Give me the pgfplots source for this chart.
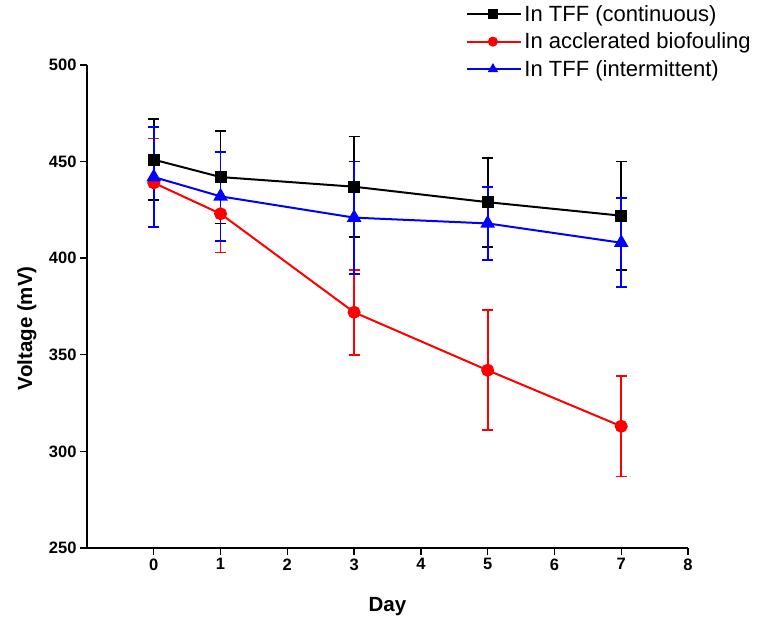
\documentclass[border=0pt]{standalone}
\usepackage{fontspec}
\setmainfont{Liberation Sans}
\usepackage{pgfplots}
\pgfplotsset{compat=1.18}

\begin{document}
\begin{tikzpicture}
\useasboundingbox (-87pt,-76pt) rectangle (671pt,548pt);
\begin{axis}[
    scale only axis,
    width=601pt, height=483pt,
    xmin=-1, xmax=8,
    ymin=250, ymax=500,
    xtick={0,1,...,8},
    ytick={250,300,...,500},
    axis x line=bottom, axis y line=left,
    axis line style={-, line width=1.4pt},
    tick align=outside,
    major tick length=7pt,
    tick style={line width=1.4pt, black},
    minor tick num=0,
    tick label style={font=\fontsize{16.5}{16.5}\selectfont\bfseries},
    /pgf/number format/assume math mode=true,
    xlabel={Day}, ylabel={Voltage (mV)},
    label style={font=\fontsize{20.5}{20.5}\selectfont\bfseries},
    xlabel style={at={(axis description cs:0.5,-0.122)}, anchor=center},
    ylabel style={at={(axis description cs:-0.1,0.455)}, anchor=center},
    legend style={at={(axis description cs:0.626,1.132)}, anchor=north west,
        draw=none, fill=none, font=\fontsize{22}{25}\selectfont,
        row sep=6pt},
    legend cell align=left,
    legend image code/.code={
        \draw[#1, mark repeat=2, mark phase=2, mark size=4pt] plot coordinates {(0pt,0pt) (25.5pt,0pt) (51pt,0pt)};
        \path (0pt,0pt) -- (54pt,0pt);
    },
    error bars/y dir=both, error bars/y explicit,
    error bars/error mark options={rotate=90, mark size=5.5pt, line width=1.8pt},
]

\addplot[black, line width=2pt, mark=square*, mark size=5pt,
    error bars/error bar style={black, line width=1.8pt}]
    coordinates {
    (0,451) +- (0,21)
    (1,442) +- (0,24)
    (3,437) +- (0,26)
    (5,429) +- (0,23)
    (7,422) +- (0,28)
    };
\addlegendentry{In TFF (continuous)}

\addplot[red, line width=2pt, mark=*, mark size=5.5pt,
    error bars/error bar style={red, line width=1.8pt}]
    coordinates {
    (0,439) +- (0,23)
    (1,423) +- (0,20)
    (3,372) +- (0,22)
    (5,342) +- (0,31)
    (7,313) +- (0,26)
    };
\addlegendentry{In acclerated biofouling}

\addplot[blue, line width=2pt, mark=triangle*, mark size=6.5pt,
    error bars/error bar style={blue, line width=1.8pt}]
    coordinates {
    (0,442) +- (0,26)
    (1,432) +- (0,23)
    (3,421) +- (0,29)
    (5,418) +- (0,19)
    (7,408) +- (0,23)
    };
\addlegendentry{In TFF (intermittent)}

\end{axis}
\end{tikzpicture}
\end{document}
